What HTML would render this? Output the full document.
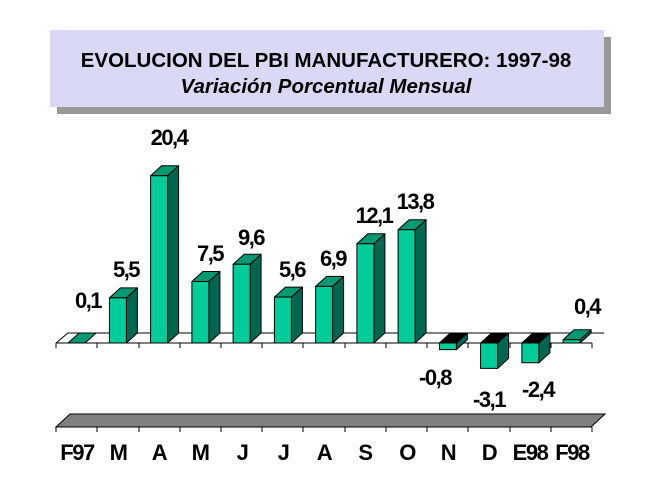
<!DOCTYPE html><html><head><style>body{margin:0;background:#fff}svg{display:block}text{font-family:"Liberation Sans",Arial,sans-serif;font-weight:bold}</style></head><body>
<svg width="648" height="486" xmlns="http://www.w3.org/2000/svg">
<rect x="57" y="37" width="554" height="77" fill="#999"/>
<rect x="50" y="30" width="554" height="77" fill="#d9d9f5"/>
<text x="326" y="67" font-size="20.5" text-anchor="middle">EVOLUCION DEL PBI MANUFACTURERO: 1997-98</text>
<text x="326" y="93" font-size="20.5" text-anchor="middle" font-style="italic">Variación Porcentual Mensual</text>
<g stroke="#000" stroke-width="1">
<line x1="68" y1="333" x2="604" y2="333"/>
<line x1="56" y1="343" x2="592" y2="343"/>
<line x1="56" y1="343" x2="68" y2="333"/>
</g>
<g stroke="#000" stroke-width="1" stroke-linejoin="round">
<polygon points="68.1,343 79.1,333 96.1,333 85.1,343" fill="#009973"/>
<polygon points="109.4,297.9 120.4,287.9 137.4,287.9 126.4,297.9" fill="#009973"/><polygon points="126.4,297.9 137.4,287.9 137.4,333 126.4,343" fill="#006650"/><rect x="109.4" y="297.9" width="17" height="45.1" fill="#00cc99"/>
<polygon points="150.6,175.7 161.6,165.7 178.6,165.7 167.6,175.7" fill="#009973"/><polygon points="167.6,175.7 178.6,165.7 178.6,333 167.6,343" fill="#006650"/><rect x="150.6" y="175.7" width="17" height="167.3" fill="#00cc99"/>
<polygon points="191.9,281.5 202.9,271.5 219.9,271.5 208.9,281.5" fill="#009973"/><polygon points="208.9,281.5 219.9,271.5 219.9,333 208.9,343" fill="#006650"/><rect x="191.9" y="281.5" width="17" height="61.5" fill="#00cc99"/>
<polygon points="233.1,264.3 244.1,254.3 261.1,254.3 250.1,264.3" fill="#009973"/><polygon points="250.1,264.3 261.1,254.3 261.1,333 250.1,343" fill="#006650"/><rect x="233.1" y="264.3" width="17" height="78.7" fill="#00cc99"/>
<polygon points="274.4,297.1 285.4,287.1 302.4,287.1 291.4,297.1" fill="#009973"/><polygon points="291.4,297.1 302.4,287.1 302.4,333 291.4,343" fill="#006650"/><rect x="274.4" y="297.1" width="17" height="45.9" fill="#00cc99"/>
<polygon points="315.6,286.4 326.6,276.4 343.6,276.4 332.6,286.4" fill="#009973"/><polygon points="332.6,286.4 343.6,276.4 343.6,333 332.6,343" fill="#006650"/><rect x="315.6" y="286.4" width="17" height="56.6" fill="#00cc99"/>
<polygon points="356.9,243.8 367.9,233.8 384.9,233.8 373.9,243.8" fill="#009973"/><polygon points="373.9,243.8 384.9,233.8 384.9,333 373.9,343" fill="#006650"/><rect x="356.9" y="243.8" width="17" height="99.2" fill="#00cc99"/>
<polygon points="398.1,229.8 409.1,219.8 426.1,219.8 415.1,229.8" fill="#009973"/><polygon points="415.1,229.8 426.1,219.8 426.1,333 415.1,343" fill="#006650"/><rect x="398.1" y="229.8" width="17" height="113.2" fill="#00cc99"/>
<polygon points="439.4,343 450.4,333 467.4,333 456.4,343" fill="#000"/><polygon points="456.4,343 467.4,333 467.4,339.6 456.4,349.6" fill="#006650"/><rect x="439.4" y="343" width="17" height="6.6" fill="#00cc99"/>
<polygon points="480.6,343 491.6,333 508.6,333 497.6,343" fill="#000"/><polygon points="497.6,343 508.6,333 508.6,358.4 497.6,368.4" fill="#006650"/><rect x="480.6" y="343" width="17" height="25.4" fill="#00cc99"/>
<polygon points="521.9,343 532.9,333 549.9,333 538.9,343" fill="#000"/><polygon points="538.9,343 549.9,333 549.9,352.7 538.9,362.7" fill="#006650"/><rect x="521.9" y="343" width="17" height="19.7" fill="#00cc99"/>
<polygon points="563.1,339.7 574.1,329.7 591.1,329.7 580.1,339.7" fill="#009973"/><polygon points="580.1,339.7 591.1,329.7 591.1,333 580.1,343" fill="#006650"/><rect x="563.1" y="339.7" width="17" height="3.3" fill="#00cc99"/>
</g>
<g stroke="#000" stroke-width="1">
<line x1="56" y1="343" x2="56" y2="348"/><line x1="97" y1="343" x2="97" y2="348"/><line x1="139" y1="343" x2="139" y2="348"/><line x1="180" y1="343" x2="180" y2="348"/><line x1="221" y1="343" x2="221" y2="348"/><line x1="262" y1="343" x2="262" y2="348"/><line x1="303" y1="343" x2="303" y2="348"/><line x1="345" y1="343" x2="345" y2="348"/><line x1="386" y1="343" x2="386" y2="348"/><line x1="427" y1="343" x2="427" y2="348"/><line x1="468" y1="343" x2="468" y2="348"/><line x1="510" y1="343" x2="510" y2="348"/><line x1="551" y1="343" x2="551" y2="348"/><line x1="592" y1="343" x2="592" y2="348"/>
</g>
<polygon points="70,414 605,414 591,427 56,427" fill="#808080" stroke="#000" stroke-width="1"/>
<g stroke="#000" stroke-width="1">
<line x1="56" y1="427" x2="56" y2="432"/><line x1="97" y1="427" x2="97" y2="432"/><line x1="139" y1="427" x2="139" y2="432"/><line x1="180" y1="427" x2="180" y2="432"/><line x1="221" y1="427" x2="221" y2="432"/><line x1="262" y1="427" x2="262" y2="432"/><line x1="303" y1="427" x2="303" y2="432"/><line x1="345" y1="427" x2="345" y2="432"/><line x1="386" y1="427" x2="386" y2="432"/><line x1="427" y1="427" x2="427" y2="432"/><line x1="468" y1="427" x2="468" y2="432"/><line x1="510" y1="427" x2="510" y2="432"/><line x1="551" y1="427" x2="551" y2="432"/><line x1="592" y1="427" x2="592" y2="432"/>
</g>
<g font-size="22" text-anchor="middle" letter-spacing="-1.5">
<text x="77" y="460">F97</text><text x="118" y="460">M</text><text x="159" y="460">A</text><text x="200" y="460">M</text><text x="242" y="460">J</text><text x="283" y="460">J</text><text x="324" y="460">A</text><text x="365" y="460">S</text><text x="407" y="460">O</text><text x="448" y="460">N</text><text x="489" y="460">D</text><text x="530" y="460">E98</text><text x="572" y="460">F98</text>
</g>
<g font-size="22" text-anchor="middle" letter-spacing="-1.5">
<text x="88" y="308">0,1</text><text x="126" y="277">5,5</text><text x="169" y="145">20,4</text><text x="210" y="261">7,5</text><text x="251" y="245">9,6</text><text x="292" y="277">5,6</text><text x="333" y="266">6,9</text><text x="374" y="223">12,1</text><text x="415" y="209">13,8</text>
<text x="435" y="385">-0,8</text><text x="489" y="407">-3,1</text><text x="538" y="397">-2,4</text><text x="587" y="314">0,4</text>
</g>
</svg>
</body></html>
